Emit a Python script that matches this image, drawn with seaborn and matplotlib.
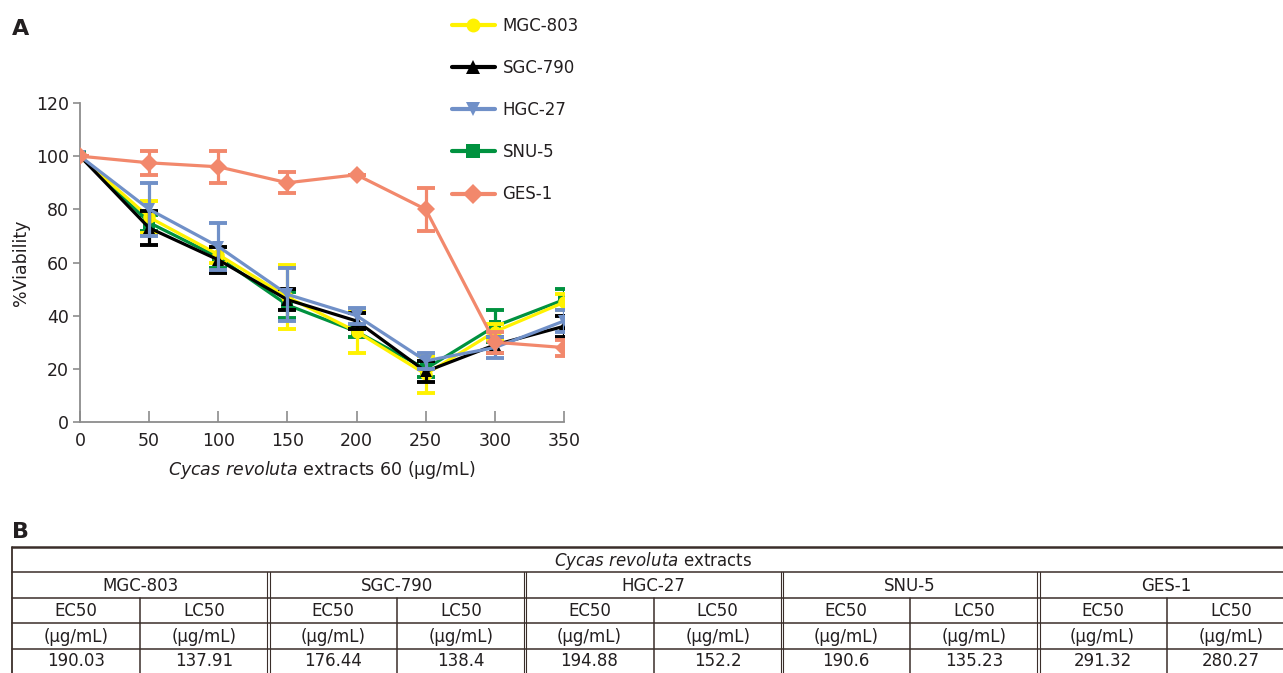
import matplotlib
matplotlib.use("Agg")
import matplotlib.pyplot as plt
import seaborn as sns
import pandas as pd
import numpy as np

# ---------------- data ----------------
conc = [0, 50, 100, 150, 200, 250, 300, 350]
series_names = ["MGC-803", "SGC-790", "HGC-27", "SNU-5", "GES-1"]
mgc803 = [100, 77, 63, 47, 34, 18, 34, 45]
mgc803_err = [0, 6, 3, 12, 8, 7, 3, 3]
sgc790 = [100, 73, 61, 46, 38, 19, 29, 36]
sgc790_err = [0, 6.5, 5, 4, 3, 4, 3, 4]
hgc27 = [100, 80, 66, 48, 40, 23, 28, 38]
hgc27_err = [0, 10, 9, 10, 3, 3, 4, 4]
snu5 = [100, 75, 62, 44, 34, 20, 36, 46]
snu5_err = [0, 3, 4, 5, 2, 3, 6, 4]
ges1 = [100, 97.5, 96, 90, 93, 80, 30, 28]
ges1_err = [0, 4.5, 6, 4, 0, 8, 4, 3]

table_groups = ["MGC-803", "SGC-790", "HGC-27", "SNU-5", "GES-1"]
table_sub = ["EC50", "LC50"]
table_unit = "(\u03bcg/mL)"
table_values = ["190.03", "137.91", "176.44", "138.4", "194.88",
                "152.2", "190.6", "135.23", "291.32", "280.27"]

colors = {"MGC-803": "#FFF200", "SGC-790": "#000000", "HGC-27": "#7090C8",
          "SNU-5": "#00923F", "GES-1": "#F2886C"}
markers = {"MGC-803": "o", "SGC-790": "^", "HGC-27": "v", "SNU-5": "s", "GES-1": "D"}
values = {"MGC-803": mgc803, "SGC-790": sgc790, "HGC-27": hgc27, "SNU-5": snu5, "GES-1": ges1}
errors = {"MGC-803": mgc803_err, "SGC-790": sgc790_err, "HGC-27": hgc27_err,
          "SNU-5": snu5_err, "GES-1": ges1_err}
zorders = {"SNU-5": 3, "MGC-803": 4, "SGC-790": 5, "HGC-27": 6, "GES-1": 7}

rows = []
for n in series_names:
    for c, v in zip(conc, values[n]):
        rows.append({"conc": c, "viab": v, "line": n})
df = pd.DataFrame(rows)

# ---------------- figure ----------------
sns.set_theme(style="white")
plt.rcParams["font.family"] = ["DejaVu Sans"]
TXT = "#231F20"
W, H = 1283, 673
fig = plt.figure(figsize=(W / 100, H / 100), dpi=100)
ax = fig.add_axes([80 / W, 1 - 422 / H, (564 - 80) / W, (422 - 103) / H])

order = ["SNU-5", "MGC-803", "SGC-790", "HGC-27", "GES-1"]
for n in order:
    sub = df[df["line"] == n]
    ax.errorbar(sub["conc"], sub["viab"], yerr=errors[n], fmt="none",
                ecolor=colors[n], elinewidth=2.3, capsize=6.5, capthick=2.8,
                zorder=zorders[n])
    sns.lineplot(data=sub, x="conc", y="viab", ax=ax, color=colors[n],
                 marker=markers[n], markersize=9, markeredgewidth=0,
                 linewidth=2.3, label=n, zorder=zorders[n], legend=False)

ax.set_xlim(0, 350)
ax.set_ylim(0, 120)
ax.set_xticks(conc)
ax.set_yticks(range(0, 121, 20))
for s in ["top", "right"]:
    ax.spines[s].set_visible(False)
for s in ["left", "bottom"]:
    ax.spines[s].set_color("#8C8C8C")
    ax.spines[s].set_linewidth(1.3)
ax.tick_params(axis="x", direction="in", length=8, width=1.2, color="#8C8C8C",
               labelsize=12.5, labelcolor=TXT, pad=7, bottom=True)
ax.tick_params(axis="y", direction="out", length=5, width=1.2, color="#8C8C8C",
               labelsize=12.5, labelcolor=TXT, pad=3, left=True)
ax.set_xlabel("$\\it{Cycas\\ revoluta}$ extracts 60 (\u03bcg/mL)",
              fontsize=12.5, color=TXT, labelpad=7)
ax.set_ylabel("%Viability", fontsize=12.5, color=TXT, labelpad=4)
ax.grid(False)

# legend
from matplotlib.lines import Line2D
handles = [Line2D([0], [0], color=colors[n], marker=markers[n], markersize=10,
                  markeredgewidth=0, linewidth=3) for n in series_names]
leg = fig.legend(handles, series_names, loc="upper left",
                 bbox_to_anchor=(440 / W, 1 - 5 / H), frameon=False,
                 fontsize=12, labelspacing=1.45, handlelength=2.6,
                 handletextpad=0.45, borderpad=0.2)
for t in leg.get_texts():
    t.set_color(TXT)

fig.text(12 / W, 1 - 29 / H, "A", fontsize=16, fontweight="bold", color=TXT, va="center")
fig.text(12 / W, 1 - 532 / H, "B", fontsize=16, fontweight="bold", color=TXT, va="center")

# ---------------- table ----------------
tax = fig.add_axes([0, 0, 1, 1])
tax.set_xlim(0, W)
tax.set_ylim(H, 0)
tax.axis("off")
LC = "#3A2E2A"
x0, x1 = 12, 1295
grp_w = (x1 - x0) / 5
ys = [547, 572, 598, 623, 649, 675]
tax.plot([x0, x1], [ys[0], ys[0]], color=LC, lw=1.8)
for y in ys[1:5]:
    tax.plot([x0, x1], [y, y], color=LC, lw=1.1)
tax.plot([x0, x0], [ys[0], H], color=LC, lw=1.3)
for g in range(1, 5):
    xb = x0 + g * grp_w
    for dx in (-1.2, 1.2):
        tax.plot([xb + dx, xb + dx], [ys[1], H], color=LC, lw=0.8)
for g in range(5):
    xs = x0 + g * grp_w + grp_w / 2
    tax.plot([xs, xs], [ys[2], H], color=LC, lw=1.1)

fs = 12
cy = (ys[0] + ys[1]) / 2
tax.text((x0 + x1) / 2, cy + 1, "$\\it{Cycas\\ revoluta}$ extracts", ha="center",
         va="center", fontsize=fs, color=TXT)
for g, name in enumerate(table_groups):
    gx = x0 + g * grp_w
    tax.text(gx + grp_w / 2, (ys[1] + ys[2]) / 2 + 1, name, ha="center", va="center",
             fontsize=fs, color=TXT)
    for k, sname in enumerate(table_sub):
        sx = gx + grp_w / 4 + k * grp_w / 2
        tax.text(sx, (ys[2] + ys[3]) / 2 + 1, sname, ha="center", va="center",
                 fontsize=fs, color=TXT)
        tax.text(sx, (ys[3] + ys[4]) / 2 + 1, table_unit, ha="center", va="center",
                 fontsize=fs, color=TXT)
        tax.text(sx, (ys[4] + ys[5]) / 2 - 1, table_values[g * 2 + k], ha="center",
                 va="center", fontsize=fs, color=TXT)

fig.savefig("out.png", dpi=100)
